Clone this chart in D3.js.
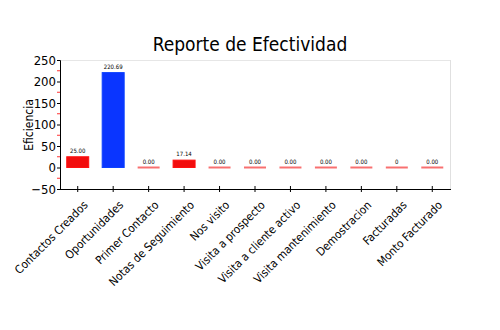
<!DOCTYPE html>
<html><head><meta charset="utf-8">
<script src="https://cdn.jsdelivr.net/npm/d3@7"></script>
<style>body{margin:0;background:#fff}svg{display:block}text{font-family:"DejaVu Sans Condensed","Liberation Sans Narrow",sans-serif}</style>
</head><body><svg id="c" width="500" height="330"></svg>
<script>
const categories = ["Contactos Creados","Oportunidades","Primer Contacto","Notas de Seguimiento","Nos visito","Visita a prospecto","Visita a cliente activo","Visita mantenimiento","Demostracion","Facturadas","Monto Facturado"];
const values = [25, 220.69, 0, 17.14, 0, 0, 0, 0, 0, 0, 0];
const valueLabels = ["25.00","220.69","0.00","17.14","0.00","0.00","0.00","0.00","0.00","0","0.00"];
const barColors = ["#f20d0d","#0a35ff","#f20d0d","#f20d0d","#f20d0d","#f20d0d","#f20d0d","#f20d0d","#f20d0d","#f20d0d","#f20d0d"];
const yTicks = [-50,0,50,100,150,200,250];
const yMinor = [-25,25,75,125,175,225];

const svg = d3.select("#c");
const m = {l:60, r:450, t:60, b:189};
const x = d3.scaleBand().domain(categories).range([m.l, m.r]).paddingInner(0.38).paddingOuter(0.19);
const y = d3.scaleLinear().domain([-50,250]).range([m.b, m.t]);

svg.append("text").attr("x",250).attr("y",51).attr("text-anchor","middle").attr("font-size",19).text("Reporte de Efectividad");

// frame
svg.append("line").attr("x1",m.l).attr("x2",m.r).attr("y1",m.t+0.5).attr("y2",m.t+0.5).attr("stroke","#e6e6e6");
svg.append("line").attr("x1",m.r+0.5).attr("x2",m.r+0.5).attr("y1",m.t).attr("y2",m.b).attr("stroke","#e0e0e0");

// bars
categories.forEach((c,i)=>{
  const v = values[i];
  const bx = x(c), bw = x.bandwidth();
  if (v === 0) {
    svg.append("line").attr("x1",bx).attr("x2",bx+bw).attr("y1",y(0)).attr("y2",y(0)).attr("stroke","#f87070").attr("stroke-width",2);
  } else {
    svg.append("rect").attr("x",bx).attr("y",y(v)).attr("width",bw).attr("height",y(0)-y(v))
      .attr("fill",barColors[i]).attr("stroke",d3.color(barColors[i]).brighter(0.6)).attr("stroke-width",1);
  }
  svg.append("text").attr("x",bx+bw/2).attr("y",y(v)-4).attr("text-anchor","middle").attr("font-size",6).text(valueLabels[i]);
});

// y axis
const ya = svg.append("g").attr("transform",`translate(${m.l},0)`)
  .call(d3.axisLeft(y).tickValues(yTicks).tickSize(3).tickPadding(1).tickFormat(d3.format("d")));
ya.selectAll("text").attr("font-size",13).attr("fill","#000").style("font-family","'Liberation Sans Narrow','DejaVu Sans Condensed',sans-serif");
ya.select(".domain").attr("stroke","#000");
svg.append("g").selectAll("line").data(yMinor).join("line")
  .attr("x1",m.l-3).attr("x2",m.l).attr("y1",d=>y(d)).attr("y2",d=>y(d)).attr("stroke","#f33");

// x axis
const xa = svg.append("g").attr("transform",`translate(0,${m.b})`)
  .call(d3.axisBottom(x).tickSize(3).tickSizeOuter(0).tickPadding(4));
xa.select(".domain").attr("stroke","#000").attr("d",`M${m.l},0.5H${m.r+1}`);
xa.selectAll(".tick line").attr("y1",-3).attr("y2",3);
xa.selectAll("text").attr("font-size",11.5).attr("fill","#000")
  .attr("text-anchor","end").attr("dy","0.35em").attr("transform","translate(3,9) rotate(-45)");

svg.append("text").attr("transform","translate(33,125) rotate(-90)").attr("text-anchor","middle").attr("font-size",12).text("Eficiencia");
</script></body></html>
